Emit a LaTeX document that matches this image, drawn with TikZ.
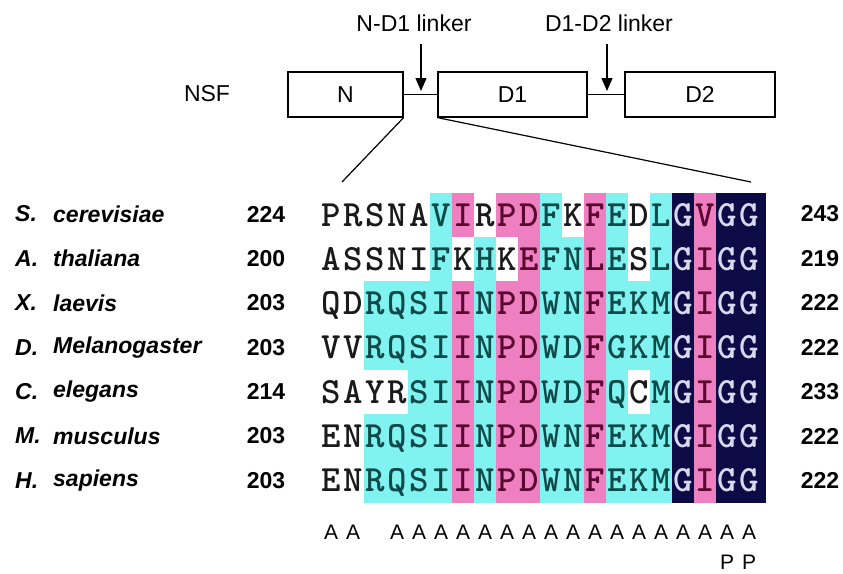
\documentclass[tikz,border=0pt]{standalone}
\usepackage{fontspec}
\setmainfont{Liberation Sans}
\usetikzlibrary{arrows.meta}
\definecolor{bgw}{HTML}{FFFFFF}
\definecolor{bgc}{HTML}{80F2F0}
\definecolor{bgm}{HTML}{EE7FC0}
\definecolor{bgn}{HTML}{0C0B45}
\definecolor{fgw}{HTML}{1A1A1A}
\definecolor{fgc}{HTML}{0F4A4A}
\definecolor{fgm}{HTML}{5A0830}
\definecolor{fgn}{HTML}{D8D8F0}
\tikzset{
  domainbox/.style={draw=black, line width=1.2pt, minimum width=115pt, minimum height=45pt, inner sep=0pt, font=\fontsize{23}{25}\selectfont},
  linkline/.style={line width=1.2pt},
  linkarrow/.style={line width=1.2pt, -{Triangle[width=11pt,length=13pt]}},
  toplabel/.style={font=\fontsize{23}{25}\selectfont},
  cell/.style={minimum width=22.6pt, minimum height=44.9pt, inner sep=0pt, outer sep=0pt, text height=22pt, text depth=0pt, font=\ttfamily\bfseries\fontsize{37}{37}\selectfont},
  genus/.style={anchor=west, inner sep=0pt, font=\bfseries\itshape\fontsize{23}{25}\selectfont},
  resnum/.style={inner sep=0pt, font=\bfseries\fontsize{23}{25}\selectfont},
  annot/.style={inner sep=0pt, font=\fontsize{21}{23}\selectfont}
}
\begin{document}
\begin{tikzpicture}[x=1pt,y=-1pt]
\useasboundingbox (0,0) rectangle (843,573);
% domain diagram
\node[toplabel] (nsf) at (207,94) {NSF};
\node[domainbox] (N) at (345.5,94.5) {N};
\node[domainbox, minimum width=149pt] (D1) at (512.5,94.5) {D1};
\node[domainbox, minimum width=150pt] (D2) at (700,94.5) {D2};
\draw[linkline] (N.east) -- (D1.west);
\draw[linkline] (D1.east) -- (D2.west);
\node[toplabel] (l1) at (414,23) {N-D1 linker};
\node[toplabel] (l2) at (609,23) {D1-D2 linker};
\coordinate (a1s) at (421,44);
\coordinate (a1e) at (421,91);
\coordinate (a2s) at (607,44);
\coordinate (a2e) at (607,91);
\draw[linkarrow] (a1s) -- (a1e);
\draw[linkarrow] (a2s) -- (a2e);
\coordinate (zl) at (342,182);
\coordinate (zr) at (751,182);
\draw[linkline] (N.south east) -- (zl);
\draw[linkline] (D1.south west) -- (zr);
% alignment
\fill[bgn] (716,193) rectangle (766,503);
\foreach \r/\seq in {
 0/{P/w,R/w,S/w,N/w,A/w,V/c,I/m,R/w,P/m,D/m,F/c,K/w,F/m,E/c,D/w,L/c,G/n,V/m,G/n,G/n},
 1/{A/w,S/w,S/w,N/w,I/w,F/c,K/w,H/c,K/w,E/m,F/c,N/c,L/m,E/c,S/w,L/c,G/n,I/m,G/n,G/n},
 2/{Q/w,D/w,R/c,Q/c,S/c,I/c,I/m,N/c,P/m,D/m,W/c,N/c,F/m,E/c,K/c,M/c,G/n,I/m,G/n,G/n},
 3/{V/w,V/w,R/c,Q/c,S/c,I/c,I/m,N/c,P/m,D/m,W/c,D/c,F/m,G/c,K/c,M/c,G/n,I/m,G/n,G/n},
 4/{S/w,A/w,Y/w,R/w,S/c,I/c,I/m,N/c,P/m,D/m,W/c,D/c,F/m,Q/c,C/w,M/c,G/n,I/m,G/n,G/n},
 5/{E/w,N/w,R/c,Q/c,S/c,I/c,I/m,N/c,P/m,D/m,W/c,N/c,F/m,E/c,K/c,M/c,G/n,I/m,G/n,G/n},
 6/{E/w,N/w,R/c,Q/c,S/c,I/c,I/m,N/c,P/m,D/m,W/c,N/c,F/m,E/c,K/c,M/c,G/n,I/m,G/n,G/n}} {
  \foreach \L/\C [count=\c from 0] in \seq {
    \node[cell, fill=bg\C, text=fg\C] (cell\r-\c) at ({331+22*\c},{215+44.33*\r}) {\L};
  }
}
% species labels and residue numbers
\foreach \r/\g/\s/\a/\b in {0/S./cerevisiae/224/243, 1/A./thaliana/200/219, 2/X./laevis/203/222, 3/D./Melanogaster/203/222, 4/C./elegans/214/233, 5/M./musculus/203/222, 6/H./sapiens/203/222} {
  \node[genus] (g\r) at (15,{214+44.4*\r}) {\g};
  \node[genus] (sp\r) at (53,{214+44.4*\r}) {\s};
  \node[resnum] (n\r) at (266,{214+44.4*\r}) {\a};
  \node[resnum] (m\r) at (820,{214+44.4*\r}) {\b};
}
% annotation marks
\foreach \c in {0,1,3,4,5,6,7,8,9,10,11,12,13,14,15,16,17,18,19} {
  \node[annot] (A\c) at ({331+22*\c},532) {A};
}
\node[annot] (P18) at (727,562) {P};
\node[annot] (P19) at (749,562) {P};
\end{tikzpicture}
\end{document}
